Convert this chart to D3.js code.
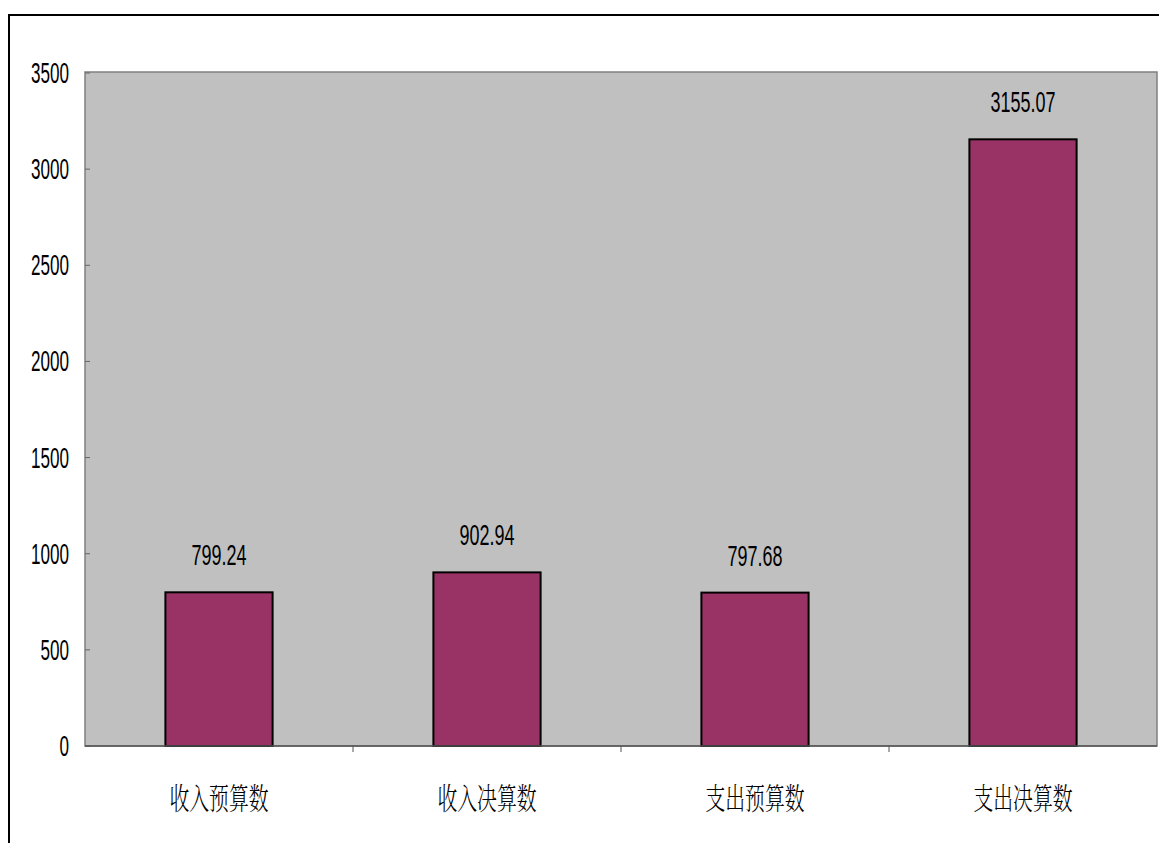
<!DOCTYPE html>
<html><head><meta charset="utf-8">
<script src="https://cdn.jsdelivr.net/npm/d3@7/dist/d3.min.js"></script>
<style>html,body{margin:0;padding:0;background:#fff;}svg{display:block;}</style>
</head><body>
<svg id="c" width="1159" height="843"></svg>
<script>
const categories = ["收入预算数", "收入决算数", "支出预算数", "支出决算数"];
const values = [799.24, 902.94, 797.68, 3155.07];
const yTicks = [0, 500, 1000, 1500, 2000, 2500, 3000, 3500];

const svg = d3.select("#c");
const W = 1159, H = 843;
const plot = {left: 85, right: 1157, top: 72, bottom: 746};

// outer frame
svg.append("line").attr("x1", 8).attr("x2", W).attr("y1", 15).attr("y2", 15)
  .attr("stroke", "#000").attr("stroke-width", 2);
svg.append("line").attr("x1", 9).attr("x2", 9).attr("y1", 14).attr("y2", H)
  .attr("stroke", "#000").attr("stroke-width", 2);

const x = d3.scaleBand().domain(categories).range([plot.left, plot.right]).paddingInner(0.6).paddingOuter(0.3);
const xb = d3.scaleBand().domain(categories).range([plot.left, plot.right]);
const y = d3.scaleLinear().domain([0, 3500]).range([plot.bottom, plot.top + 1]);

// plot background
svg.append("rect").attr("x", plot.left).attr("y", plot.top)
  .attr("width", plot.right - plot.left).attr("height", plot.bottom - plot.top)
  .attr("fill", "#c0c0c0").attr("stroke", "#808080").attr("stroke-width", 1.5);

// y ticks (inside)
svg.selectAll("line.yt").data(yTicks).enter().append("line").attr("class", "yt")
  .attr("x1", plot.left).attr("x2", plot.left + 5)
  .attr("y1", d => y(d)).attr("y2", d => y(d))
  .attr("stroke", "#666").attr("stroke-width", 1);

// bars
svg.selectAll("rect.bar").data(values).enter().append("rect").attr("class", "bar")
  .attr("x", (d, i) => x(categories[i]))
  .attr("width", x.bandwidth())
  .attr("y", d => y(d))
  .attr("height", d => y(0) - y(d))
  .attr("fill", "#993366").attr("stroke", "#000").attr("stroke-width", 2);

// x axis line + ticks
svg.append("line").attr("x1", plot.left).attr("x2", plot.right).attr("y1", plot.bottom).attr("y2", plot.bottom)
  .attr("stroke", "#555").attr("stroke-width", 1.5);
const bounds = categories.slice(1).map(c => xb(c));
svg.selectAll("line.xt").data(bounds).enter().append("line").attr("class", "xt")
  .attr("x1", d => d).attr("x2", d => d).attr("y1", plot.bottom).attr("y2", plot.bottom + 6)
  .attr("stroke", "#555").attr("stroke-width", 1);

// y labels
svg.selectAll("text.yl").data(yTicks).enter().append("text").attr("class", "yl")
  .attr("transform", d => `translate(69,${y(d) + 10}) scale(0.57,1)`)
  .attr("text-anchor", "end")
  .attr("font-family", "Liberation Sans, Arial, sans-serif")
  .attr("font-size", 30).attr("fill", "#000")
  .text(d => d);

// value labels
svg.selectAll("text.vl").data(values).enter().append("text").attr("class", "vl")
  .attr("transform", (d, i) => `translate(${x(categories[i]) + x.bandwidth() / 2},${y(d) - 27}) scale(0.6,1)`)
  .attr("text-anchor", "middle")
  .attr("font-family", "Liberation Sans, Arial, sans-serif")
  .attr("font-size", 30).attr("fill", "#000")
  .text(d => d.toFixed(2));

// category labels
svg.selectAll("text.cl").data(categories).enter().append("text").attr("class", "cl")
  .attr("transform", d => `translate(${xb(d) + xb.bandwidth() / 2},809) scale(0.66,1)`)
  .attr("text-anchor", "middle")
  .attr("font-family", "Noto Serif CJK SC, Noto Sans CJK SC, sans-serif")
  .attr("font-weight", 300)
  .attr("font-size", 30).attr("fill", "#000")
  .text(d => d);
</script>
</body></html>
